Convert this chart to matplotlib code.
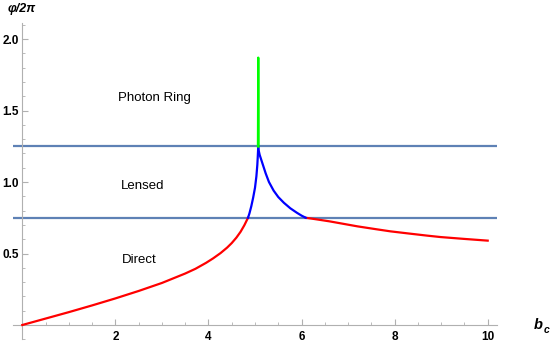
import matplotlib.pyplot as plt
from matplotlib.ticker import MultipleLocator

# red: direct segment (left) and right tail
red_left_b = [0, 0.5, 1.0, 1.5, 2.0, 2.5, 3.0, 3.5, 3.72, 3.95, 4.1, 4.26, 4.4, 4.5,
              4.6, 4.69, 4.77, 4.85]
red_left_phi = [0, 0.045, 0.09, 0.137, 0.186, 0.238, 0.294, 0.36, 0.393, 0.435, 0.466,
                0.503, 0.541, 0.573, 0.611, 0.652, 0.697, 0.75]
red_right_b = [6.09, 6.3, 6.6, 6.84, 7.2, 7.6, 7.91, 8.3, 8.7, 8.99, 9.5, 10]
red_right_phi = [0.75, 0.74, 0.725, 0.711, 0.69, 0.67, 0.655, 0.64, 0.625, 0.615, 0.602, 0.59]

# blue: lensed
blue_left_b = [4.85, 4.88, 4.92, 4.96, 5.0, 5.03, 5.05, 5.06, 5.07]
blue_left_phi = [0.75, 0.78, 0.83, 0.89, 0.96, 1.04, 1.12, 1.18, 1.25]
blue_right_b = [5.07, 5.08, 5.10, 5.13, 5.17, 5.23, 5.30, 5.40, 5.50, 5.62, 5.76, 5.90, 6.0, 6.09]
blue_right_phi = [1.25, 1.22, 1.19, 1.16, 1.12, 1.06, 1.0, 0.94, 0.895, 0.855, 0.816,
                  0.785, 0.765, 0.75]

# green: photon ring spike
green_b = [5.063, 5.07, 5.077]
green_phi = [1.25, 1.87, 1.25]

levels = [0.75, 1.25]
regions = ["Direct", "Lensed", "Photon Ring"]
region_pos = [(2.15, 0.455), (2.11, 0.972), (2.06, 1.587)]

plt.rcParams['font.family'] = ['Liberation Sans', 'DejaVu Sans']

fig = plt.figure(figsize=(5.52, 3.46), dpi=100)
ax = fig.add_axes([13 / 552, 1 - 339.3 / 346, 484 / 552, 316 / 346])
ax.set_xlim(-0.2, 10.2)
ax.set_ylim(-0.1, 2.11)

for lv in levels:
    ax.axhline(lv, color='#5e81b5', lw=1.6, zorder=2)

ax.plot(red_left_b, red_left_phi, color='red', lw=1.6, zorder=3)
ax.plot(red_right_b, red_right_phi, color='red', lw=1.6, zorder=3)
ax.plot(blue_left_b, blue_left_phi, color='blue', lw=1.6, zorder=3)
ax.plot(blue_right_b, blue_right_phi, color='blue', lw=1.6, zorder=3)
ax.plot(green_b, green_phi, color='#00ff00', lw=1.6, zorder=3)

for name, (bx, py) in zip(regions, region_pos):
    ax.text(bx, py, name, fontsize=9.5, ha='left', va='center')

for s in ['top', 'right']:
    ax.spines[s].set_visible(False)
for s in ['left', 'bottom']:
    ax.spines[s].set_position(('data', 0))
    ax.spines[s].set_color('#b0b0b0')
    ax.spines[s].set_linewidth(0.8)

ax.xaxis.set_minor_locator(MultipleLocator(0.5))
ax.yaxis.set_minor_locator(MultipleLocator(0.1))
ax.set_xticks([2, 4, 6, 8, 10])
ax.set_yticks([0.5, 1.0, 1.5, 2.0])
ax.set_yticklabels(['0.5', '1.0', '1.5', '2.0'])
ax.tick_params(which='major', direction='in', length=4, width=0.8, color='#b0b0b0',
               labelsize=8.5, pad=2.5)
ax.tick_params(axis='x', which='major', pad=4)
ax.tick_params(which='minor', direction='in', length=2.5, width=0.6, color='#b0b0b0')
for lab in ax.get_xticklabels() + ax.get_yticklabels():
    lab.set_fontweight('bold')

fig.text(8 / 552, 1 - 9 / 346, 'φ/2π', fontsize=9, fontweight='bold',
         fontstyle='italic', va='center', ha='left')
fig.text(534 / 552, 1 - 325 / 346, 'b', fontsize=10.5, fontweight='bold',
         fontstyle='italic', va='center', ha='left')
fig.text(543.5 / 552, 1 - 330 / 346, 'c', fontsize=7.5, fontweight='bold',
         fontstyle='italic', va='center', ha='left')

fig.savefig('out.png', dpi=100)
